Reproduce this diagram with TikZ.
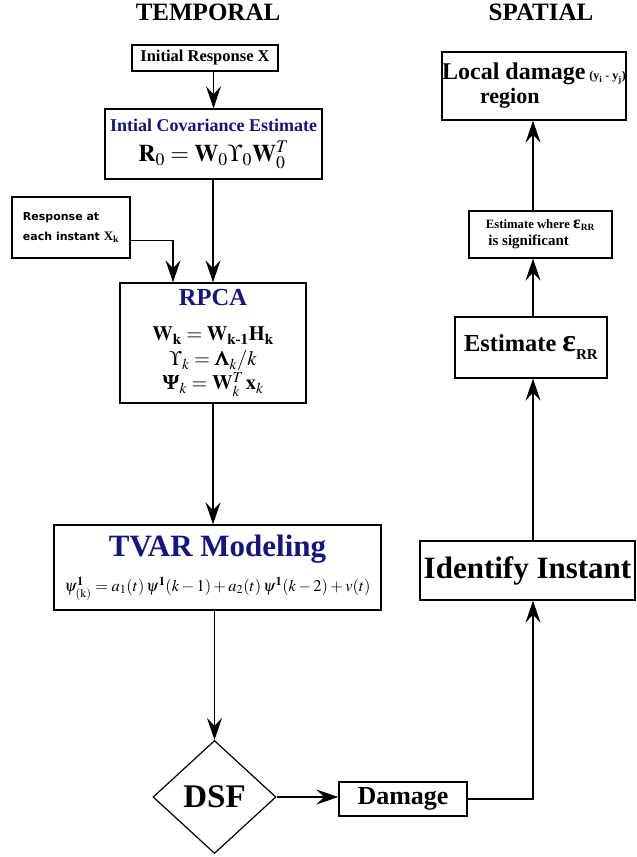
\documentclass[tikz,border=0pt]{standalone}
\usepackage{amsmath}
\usepackage{mathptmx}
\usepackage{bm}
\usepackage{fontspec}
\setmainfont{Liberation Serif}
\newfontfamily\respfont{DejaVu Sans}
\usetikzlibrary{arrows.meta,shapes.geometric}
\definecolor{navy}{RGB}{20,20,130}
\newcommand{\fsz}[2]{\fontsize{#1}{#2}\selectfont}
\newcommand{\tightlines}{\lineskiplimit=-30pt\relax}
\tikzset{box/.style={draw,line width=1.4pt,inner sep=0pt,align=center,font=\bfseries},
  head/.style={font=\bfseries\fsz{25}{30}},
  arr/.style={-{Stealth[length=22pt,width=15pt,inset=8pt]},line width=1.2pt},
  conn/.style={line width=1.2pt}}

\begin{document}
\begin{tikzpicture}[x=1pt,y=-1pt]
\useasboundingbox (0,0) rectangle (637,857);
\clip (0,0) rectangle (637,857);
% column headers
\node[head] (temporal) at (208,12) {TEMPORAL};
\node[head] (spatial) at (541,12) {SPATIAL};
\coordinate (col) at (533,0);

% temporal side
\node[box,minimum width=146,minimum height=26,font=\bfseries\fsz{16.5}{20}] (init) at (205,58) {Initial Response X};
\node[box,minimum width=217,minimum height=70,font=\bfseries\fsz{18}{30}] (cov) at (213.5,144)
  {\textcolor{navy}{Intial Covariance Estimate}\\
   {\fsz{24}{30}$\mathbf{R}_0=\mathbf{W}_0\Upsilon_0\mathbf{W}_0^T$}};
\node[box,minimum width=118,minimum height=61,align=left,font=\respfont\bfseries\fsz{11}{19.5}] (resp) at (71,227.5)
  {Response at\\ each instant {\rmfamily\fsz{13}{13}X\textsubscript{k}}};
\node[box,minimum width=186,minimum height=120,font=\bfseries\fsz{20.5}{24}\tightlines] (rpca) at (213,343)
  {\textcolor{navy}{\fsz{24.5}{24}RPCA}\\[11pt]
   $\mathbf{W}_{\mathbf{k}}=\mathbf{W}_{\mathbf{k\text{-}1}}\mathbf{H}_{\mathbf{k}}$\\[1pt]
   $\Upsilon_k=\bm{\Lambda}_k/k$\\
   $\bm{\Psi}_k=\mathbf{W}_k^T\,\mathbf{x}_k$};
\node[box,minimum width=327,minimum height=85,font=\bfseries\fsz{31}{35}] (tvar) at (217.5,567.5)
  {\textcolor{navy}{TVAR Modeling}\\
   {\mdseries\fsz{16.4}{16}$\psi^{\mathbf{1}}_{(\mathrm{k})}=a_1(t)\,\psi^{\mathbf{1}}(k-1)+a_2(t)\,\psi^{\mathbf{1}}(k-2)+v(t)$}};
\node[draw,diamond,line width=1.2pt,minimum width=123,minimum height=113,inner sep=0pt,font=\bfseries\fsz{33}{33}] (dsf) at (214.5,797) {DSF};
\node[box,minimum width=128,minimum height=34,font=\bfseries\fsz{26}{26}] (dmg) at (403,799) {Damage};

% spatial side
\node[box,minimum width=215,minimum height=59,font=\bfseries\fsz{31}{31}] (ident) at (527.5,570.5) {Identify Instant};
\node[box,minimum width=152,minimum height=61,font=\bfseries\fsz{24.4}{30}] (esterr) at (531,347.5)
  {Estimate {\fsz{32}{32}ε}\raisebox{-8pt}{\fsz{15}{15}RR}};
\node[box,minimum width=143,minimum height=47,align=left,font=\bfseries\fsz{15}{17}] (sig) at (540.5,234.5)
  {{\fsz{12.7}{17}Estimate where {\fsz{18}{18}ε}\textsubscript{\fsz{9.5}{9.5}RR}}\\
   \,is significant};
\node[box,minimum width=181,minimum height=68,align=left,font=\bfseries\fsz{24}{24}] (local) at (534,86)
  {Local damage\,{\fsz{12}{12}(y\textsubscript{i} - y\textsubscript{j})}\\
   \hspace{38pt}{\fsz{22}{22}region}};

% connectors
\draw[arr] (cov.north |- init.south) -- (cov.north);
\draw[arr] (rpca.north |- cov.south) -- (rpca.north);
\draw[arr] ([yshift=-13pt]resp.east) -| ([xshift=-40pt]rpca.north);
\draw[arr] (rpca.south) -- (rpca.south |- tvar.north);
\draw[arr] (tvar.south -| dsf.north) -- (dsf.north);
\draw[arr] (dsf.east) -- (dsf.east -| dmg.west);
\draw[arr] (dmg.east) -| (col |- ident.south);
\draw[arr] (col |- ident.north) -- (col |- esterr.south);
\draw[arr] (col |- esterr.north) -- (col |- sig.south);
\draw[arr] (col |- sig.north) -- (col |- local.south);
\end{tikzpicture}
\end{document}
